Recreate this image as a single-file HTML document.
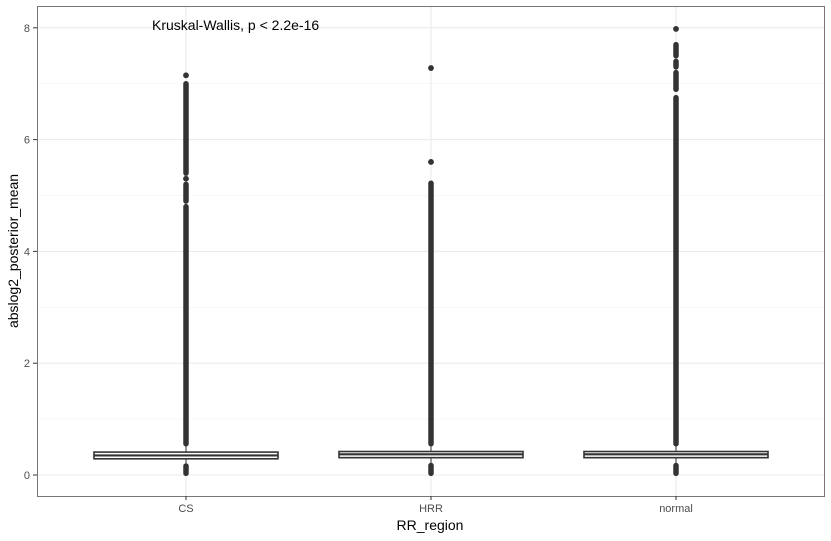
<!DOCTYPE html>
<html><head><meta charset="utf-8"><style>
body{margin:0;background:#fff;}
svg{display:block;font-family:"Liberation Sans",Arial,sans-serif;}
</style></head><body>
<svg id="chart" width="831" height="541">
<g id="grid"></g>
<g id="marks"></g>
<rect x="37.5" y="6.5" width="787" height="490" fill="none" stroke="#555" stroke-width="0.8"/>
<g id="axes"></g>
<text x="152" y="30" font-size="14" fill="#000">Kruskal-Wallis, p &lt; 2.2e-16</text>
<text x="430" y="530" font-size="14" text-anchor="middle" fill="#000">RR_region</text>
<text transform="translate(18,251) rotate(-90)" font-size="14" text-anchor="middle" fill="#000">abslog2_posterior_mean</text>
</svg>
<script>
const categories = ["CS","HRR","normal"];
const q1 = [0.29, 0.31, 0.31];
const medians = [0.35, 0.37, 0.37];
const q3 = [0.41, 0.42, 0.42];
const whiskerLow = [0.16, 0.17, 0.17];
const whiskerHigh = [0.56, 0.56, 0.56];
const lowOutlierRange = [[0.03,0.16],[0.03,0.17],[0.03,0.17]];
const denseOutlierRanges = [
  [[0.56,4.8],[4.9,5.2],[5.4,7.0]],
  [[0.56,5.22]],
  [[0.56,6.75],[6.9,7.2],[7.3,7.4],[7.5,7.7]]
];
const sparseOutliers = [[5.3,7.15],[5.6,7.28],[7.98]];
const yTicks = [0,2,4,6,8];
const yMinor = [1,3,5,7];

const NS="http://www.w3.org/2000/svg";
function xS(i){return 186+i*245;}
function yS(v){return 475-55.9*v;}
function mk(tag,attrs,parent){const e=document.createElementNS(NS,tag);for(const k in attrs)e.setAttribute(k,attrs[k]);parent.appendChild(e);return e;}
const grid=document.getElementById('grid'),marks=document.getElementById('marks'),axes=document.getElementById('axes');
yMinor.forEach(v=>{const l=mk('line',{x1:37,x2:824,y1:yS(v),y2:yS(v),stroke:'#f2f2f2','stroke-width':0.6},grid);

});
yTicks.forEach(v=>{const l=mk('line',{x1:37,x2:824,y1:yS(v),y2:yS(v),stroke:'#ebebeb','stroke-width':1.1},grid);


const t=mk('line',{x1:33,x2:37,y1:yS(v),y2:yS(v),stroke:'#333'},axes);


const tx=mk('text',{x:30,y:yS(v)+4,'font-size':11,'text-anchor':'end',fill:'#4d4d4d'},axes);tx.textContent=v;

});
categories.forEach((c,i)=>{const x=xS(i);
const g=mk('line',{x1:x,x2:x,y1:6,y2:496,stroke:'#ebebeb','stroke-width':1.1},grid);


const t=mk('line',{x1:x,x2:x,y1:496,y2:500,stroke:'#333'},axes);


const tx=mk('text',{x:x,y:512,'font-size':11,'text-anchor':'middle',fill:'#4d4d4d'},axes);tx.textContent=c;


const grp=mk('g',{},marks);


mk('line',{x1:x,x2:x,y1:yS(whiskerHigh[i]),y2:yS(q3[i]),stroke:'#333','stroke-width':1},grp);
mk('line',{x1:x,x2:x,y1:yS(q1[i]),y2:yS(whiskerLow[i]),stroke:'#333','stroke-width':1},grp);
const allR=denseOutlierRanges[i].concat([lowOutlierRange[i]]);
allR.forEach(r=>{const l=mk('line',{x1:x,x2:x,y1:yS(r[0]),y2:yS(r[1]),stroke:'#333','stroke-width':5.5,'stroke-linecap':'round'},grp);

});
sparseOutliers[i].forEach(v=>{const p=mk('circle',{cx:x,cy:yS(v),r:2.9,fill:'#333'},grp);

});
const w=92;
const b=mk('rect',{x:x-w,y:yS(q3[i]),width:2*w,height:yS(q1[i])-yS(q3[i]),fill:'#fff',stroke:'#333','stroke-width':1.6},grp);


const m=mk('line',{x1:x-w,x2:x+w,y1:yS(medians[i]),y2:yS(medians[i]),stroke:'#333','stroke-width':2.2},grp);


});
</script>
</body></html>
